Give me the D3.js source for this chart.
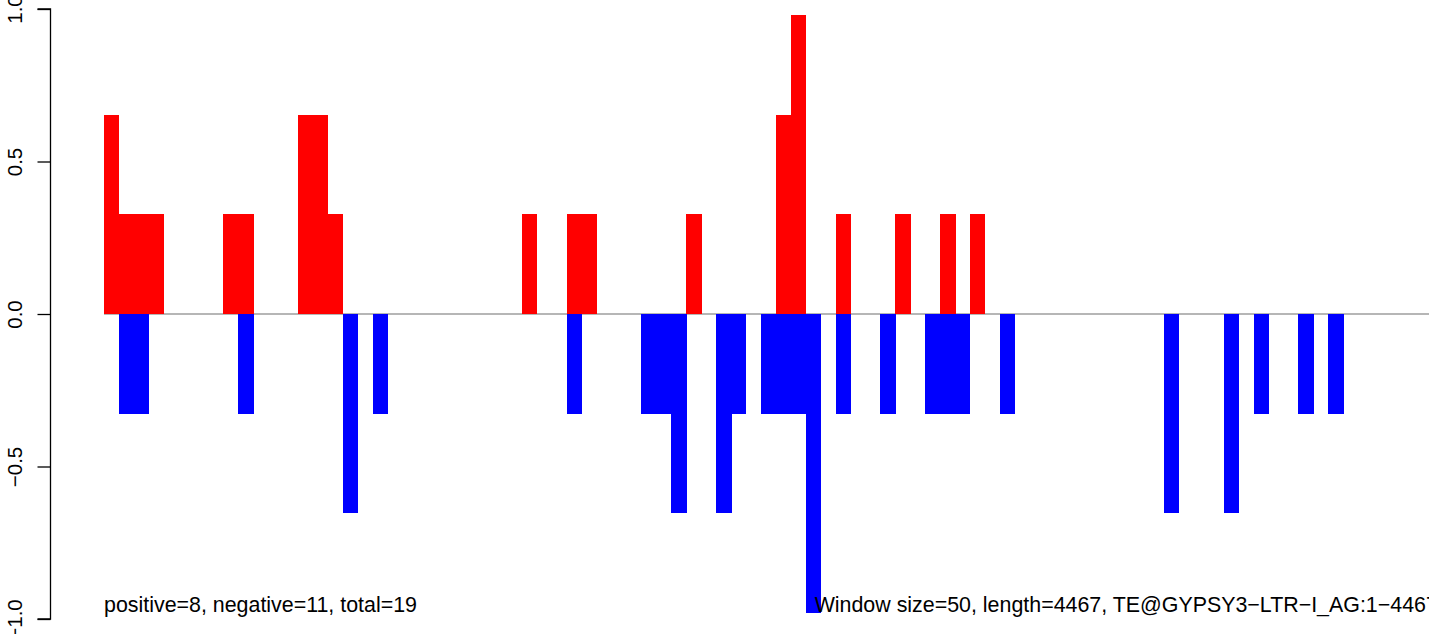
<!DOCTYPE html>
<html>
<head>
<meta charset="utf-8">
<script src="https://cdn.jsdelivr.net/npm/d3@7"></script>
<style>
  html, body { margin: 0; padding: 0; background: #fff; }
  svg { display: block; font-family: "Liberation Sans", Arial, Helvetica, sans-serif; }
</style>
</head>
<body>
<svg id="chart" width="1429" height="634"></svg>
<script>
// ---- data ----
const windowSize = 50;
const seqLength = 4467;
const posWindows = [0, 1, 2, 3, 8, 9, 13, 14, 15, 28, 31, 32, 39, 45, 46, 49, 53, 56, 58];
const posValues  = [0.654, 0.327, 0.327, 0.327, 0.327, 0.327, 0.654, 0.654, 0.327, 0.327, 0.327, 0.327, 0.327, 0.654, 0.98, 0.327, 0.327, 0.327, 0.327];
const negWindows = [1, 2, 9, 16, 18, 31, 36, 37, 38, 41, 42, 44, 45, 46, 47, 49, 52, 55, 56, 57, 60, 71, 75, 77, 80, 82];
const negValues  = [-0.327, -0.327, -0.327, -0.654, -0.327, -0.327, -0.327, -0.327, -0.654, -0.654, -0.327, -0.327, -0.327, -0.327, -0.98, -0.327, -0.327, -0.327, -0.327, -0.327, -0.327, -0.654, -0.654, -0.327, -0.327, -0.327];
const yTicks = [-1, -0.5, 0, 0.5, 1];
const yTickLabels = ["\u22121.0", "\u22120.5", "0.0", "0.5", "1.0"];
const leftNote = "positive=8, negative=11, total=19";
const rightNote = "Window size=50, length=4467, TE@GYPSY3\u2212LTR\u2212I_AG:1\u22124467";

// ---- layout ----
const svg = d3.select("#chart");
const x = d3.scaleLinear().domain([0, seqLength]).range([104, 104 + seqLength * 14.93 / windowSize]);
const y = d3.scaleLinear().domain([-1, 1]).range([619, 9]);

// zero line
svg.append("line")
  .attr("x1", x(0)).attr("x2", x(seqLength))
  .attr("y1", y(0)).attr("y2", y(0))
  .attr("stroke", "#9e9e9e").attr("stroke-width", 1.5);

const pos = posWindows.map((w, i) => ({ w, v: posValues[i] }));
const neg = negWindows.map((w, i) => ({ w, v: negValues[i] }));

svg.append("g").attr("shape-rendering", "crispEdges")
  .selectAll("rect").data(pos).join("rect")
  .attr("x", d => x(d.w * windowSize))
  .attr("width", d => x((d.w + 1) * windowSize) - x(d.w * windowSize) + 0.5)
  .attr("y", d => y(d.v))
  .attr("height", d => y(0) - y(d.v))
  .attr("fill", "#ff0000");

svg.append("g").attr("shape-rendering", "crispEdges")
  .selectAll("rect").data(neg).join("rect")
  .attr("x", d => x(d.w * windowSize))
  .attr("width", d => x((d.w + 1) * windowSize) - x(d.w * windowSize) + 0.5)
  .attr("y", d => y(0))
  .attr("height", d => y(d.v) - y(0))
  .attr("fill", "#0000ff");

// y axis
const axis = d3.axisLeft(y).tickValues(yTicks).tickSize(13).tickPadding(0)
  .tickFormat((d, i) => yTickLabels[i]);
const gAxis = svg.append("g").attr("transform", "translate(50.5,0)").call(axis);
gAxis.select(".domain").attr("d", `M-13,${y(-1)}H0V${y(1)}H-13`).attr("stroke", "#000").attr("stroke-width", 1.3);
gAxis.selectAll(".tick line").attr("stroke", "#000").attr("stroke-width", 1.3);
gAxis.selectAll(".tick text")
  .attr("x", 0).attr("y", 0).attr("dy", null)
  .attr("transform", "translate(-28.5,0) rotate(-90)")
  .attr("text-anchor", "middle")
  .attr("font-size", 20.5)
  .attr("font-family", "Liberation Sans, Arial, sans-serif")
  .attr("fill", "#000");

// notes
svg.append("text")
  .attr("x", x(0)).attr("y", 612)
  .attr("font-size", 21.4).attr("fill", "#000")
  .text(leftNote);
svg.append("text")
  .attr("x", x(seqLength)).attr("y", 612)
  .attr("text-anchor", "end")
  .attr("font-size", 21.4).attr("fill", "#000")
  .text(rightNote);
</script>
</body>
</html>
